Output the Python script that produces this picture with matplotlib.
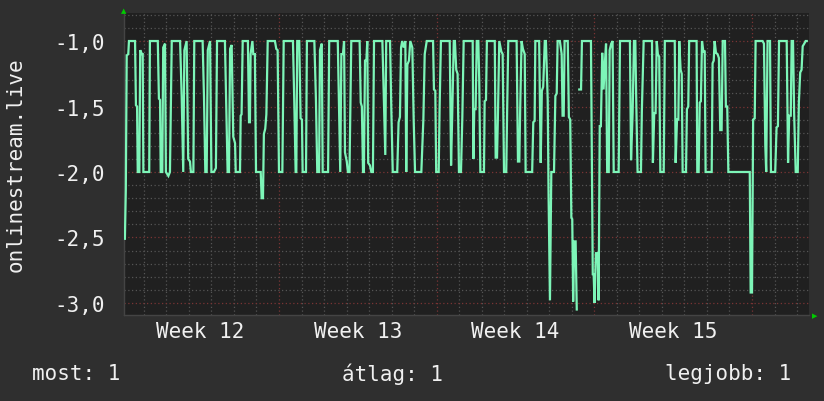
#!/usr/bin/env python
import numpy as np
import matplotlib
matplotlib.use('Agg')
import matplotlib.pyplot as plt

# time in days since Monday of week 12, value as plotted
t_days = [
  0.16, 0.20, 0.24, 0.31, 0.34, 0.61, 0.65, 0.70, 0.73, 0.80,
  0.84, 0.92, 0.95, 0.98, 1.24, 1.27, 1.62, 1.67, 1.72, 1.75,
  1.82, 1.86, 1.94, 1.98, 2.09, 2.16, 2.24, 2.61, 2.68, 2.75,
  2.80, 2.90, 2.97, 3.05, 3.09, 3.20, 3.24, 3.61, 3.67, 3.73,
  3.79, 3.84, 3.94, 4.00, 4.11, 4.20, 4.25, 4.60, 4.66, 4.72,
  4.78, 4.83, 4.90, 4.97, 5.05, 5.08, 5.27, 5.30, 5.34, 5.39,
  5.62, 5.67, 5.71, 5.74, 5.82, 5.86, 5.93, 5.98, 6.19, 6.23,
  6.29, 6.33, 6.39, 6.44, 6.50, 6.82, 6.88, 6.94, 7.00, 7.15,
  7.21, 7.62, 7.68, 7.74, 7.77, 7.81, 7.90, 7.96, 8.02, 8.05,
  8.20, 8.24, 8.57, 8.64, 8.70, 8.78, 8.82, 8.90, 8.94, 9.18,
  9.23, 9.61, 9.66, 9.72, 9.77, 9.84, 9.89, 9.93, 10.01, 10.06,
  10.13, 10.21, 10.58, 10.63, 10.68, 10.73, 10.77, 10.82, 10.88, 10.92,
  10.96, 11.04, 11.10, 11.17, 11.22, 11.59, 11.66, 11.72, 11.76, 11.93,
  11.99, 12.05, 12.25, 12.31, 12.37, 12.42, 12.47, 12.54, 12.61, 12.65,
  12.70, 12.77, 12.83, 12.92, 12.98, 13.04, 13.32, 13.41, 13.47, 13.56,
  13.84, 13.88, 13.94, 13.98, 14.09, 14.13, 14.19, 14.58, 14.64, 14.69,
  14.76, 14.81, 14.87, 14.93, 14.99, 15.08, 15.14, 15.20, 15.60, 15.63,
  15.67, 15.73, 15.78, 15.85, 15.89, 15.94, 16.10, 16.13, 16.19, 16.23,
  16.58, 16.62, 16.68, 16.72, 16.78, 16.87, 16.93, 16.99, 17.09, 17.13,
  17.18, 17.55, 17.61, 17.67, 17.71, 17.77, 17.83, 17.91, 17.95, 18.24,
  18.29, 18.35, 18.38, 18.55, 18.62, 18.67, 18.73, 18.80, 18.85, 18.93,
  18.97, 19.03, 19.09, 19.21, 19.27, 19.33, 19.37, 19.47, 19.55, 19.59,
  19.64, 19.68, 19.82, 19.87, 19.93, 19.98, 20.02, 20.06, 20.11, 20.17,
  20.22, 20.28, 20.33, 20.41, 20.45, 20.81, 20.85, 20.93, 20.97, 21.01,
  21.07, 21.15, 21.19, 21.24, 21.29, 21.35, 21.41, 21.47, 21.52, 21.57,
  21.64, 21.68, 21.75, 21.81, 21.86, 22.08, 22.14, 22.58, 22.63, 22.70,
  22.76, 22.82, 22.86, 22.92, 23.07, 23.11, 23.19, 23.56, 23.60, 23.66,
  23.72, 23.77, 23.82, 23.88, 23.93, 24.08, 24.13, 24.57, 24.61, 24.67,
  24.73, 24.77, 24.83, 24.88, 24.92, 25.07, 25.11, 25.17, 25.21, 25.54,
  25.57, 25.63, 25.68, 25.73, 25.78, 25.84, 25.90, 25.94, 26.21, 26.25,
  26.30, 26.34, 26.40, 26.47, 26.53, 26.59, 26.65, 26.70, 26.80, 26.84,
  26.90, 26.95, 27.90, 27.94, 28.00, 28.05, 28.12, 28.16, 28.47, 28.53,
  28.59, 28.63, 28.69, 28.80, 28.84, 29.03, 29.09, 29.15, 29.20, 29.54,
  29.60, 29.65, 29.72, 29.76, 29.82, 29.87, 29.94, 30.03, 30.08, 30.14,
  30.20, 30.25, 30.32, 30.38, 30.43,
]
nan = float('nan')
values = [
  -2.51, -2.14, -1.11, -1.10, -1.00, -1.00, -1.49, -1.50, -2.00, -2.00,
  -1.07, -1.10, -1.10, -2.00, -2.00, -1.00, -1.00, -1.44, -1.45, -2.00,
  -2.00, -1.05, -1.02, -2.00, -2.03, -2.00, -1.00, -1.00, -1.42, -2.00,
  -1.07, -1.00, -1.90, -1.92, -2.00, -2.00, -1.00, -1.00, -1.42, -2.00,
  -2.00, -1.07, -1.00, -2.00, -2.00, -1.97, -1.00, -1.00, -1.49, -2.00,
  -2.00, -1.06, -1.03, -1.73, -1.78, -2.00, -2.00, -1.57, -1.56, -1.00,
  -1.00, -1.62, -1.62, -1.10, -1.00, -1.10, -1.10, -2.00, -2.00, -2.20,
  -2.20, -1.71, -1.67, -1.56, -1.00, -1.00, -1.06, -1.07, -2.00, -2.00,
  -1.00, -1.00, -1.47, -2.00, -2.00, -1.00, -1.00, -1.59, -1.60, -2.00,
  -2.00, -1.00, -1.00, -1.44, -2.00, -2.00, -1.07, -1.02, -2.00, -2.00,
  -1.00, -1.00, -1.45, -2.00, -1.10, -1.10, -1.00, -1.85, -1.92, -2.00,
  -2.00, -1.00, -1.00, -1.47, -1.50, -2.00, -2.00, -1.15, -1.15, -1.00,
  -1.93, -1.95, -2.00, -2.00, -1.00, -1.00, -1.48, -1.87, -1.00, -1.00,
  -1.54, -2.00, -2.00, -1.62, -1.58, -1.05, -1.00, -1.05, -1.00, -2.00,
  -1.18, -1.15, -1.00, -1.05, -1.60, -2.00, -2.00, -1.60, -1.10, -1.00,
  -1.00, -1.37, -1.38, -2.00, -2.00, -1.52, -1.00, -1.00, -1.95, -1.57,
  -1.00, -1.00, -1.22, -1.25, -2.00, -2.00, -1.58, -1.00, -1.00, -1.90,
  -1.52, -1.52, -1.00, -1.00, -1.30, -2.00, -2.00, -1.46, -1.45, -1.00,
  -1.00, -1.89, -1.89, -1.57, -1.00, -1.08, -1.10, -2.00, -2.00, -1.52,
  -1.00, -1.00, -1.92, -1.92, -1.50, -1.00, -1.06, -1.10, -2.00, -2.00,
  -1.62, -1.61, -1.00, -1.00, -1.93, -1.38, -1.35, -1.00, -1.00, -1.45,
  -2.20, -2.98, -2.00, -2.00, -1.42, -1.40, -1.00, -1.00, -1.10, -1.57,
  -1.57, -1.00, -1.00, -1.58, -1.60, -2.35, -2.36, -2.99, -2.53, -2.53,
  -3.05, nan, -1.37, -1.37, -1.00, -1.00, -1.00, -2.78, -2.78, -3.00,
  -2.62, -2.62, -2.98, -1.65, -1.65, -1.09, -1.37, -1.16, -1.02, -2.00,
  -2.00, -1.07, -1.02, -1.00, -2.00, -2.00, -1.00, -1.00, -1.91, -1.55,
  -1.00, -1.00, -1.45, -2.00, -2.00, -1.53, -1.00, -1.00, -1.93, -1.55,
  -1.55, -1.00, -1.10, -1.12, -2.00, -2.00, -1.00, -1.00, -1.93, -1.60,
  -1.60, -1.00, -1.22, -1.25, -2.00, -2.00, -1.52, -1.50, -1.00, -1.00,
  -2.00, -2.00, -1.47, -1.46, -1.00, -1.08, -1.08, -2.00, -2.00, -1.17,
  -1.15, -1.00, -1.09, -1.10, -1.13, -1.68, -1.68, -1.00, -1.00, -1.50,
  -1.50, -2.00, -2.00, -2.92, -2.92, -1.60, -1.59, -1.00, -1.00, -1.02,
  -1.80, -2.00, -1.00, -1.00, -2.00, -2.00, -1.66, -1.65, -1.00, -1.00,
  -1.93, -1.57, -1.57, -1.00, -1.00, -1.55, -2.00, -2.00, -1.47, -1.24,
  -1.22, -1.04, -1.02, -1.00, -1.00,
]

week_pos = [3.5, 10.5, 17.5, 24.5]
week_labels = ['Week 12', 'Week 13', 'Week 14', 'Week 15']
y_ticks = [-1.0, -1.5, -2.0, -2.5, -3.0]
y_labels = ['-1,0', '-1,5', '-2,0', '-2,5', '-3,0']
legend_items = ['most: 1', 'átlag: 1', 'legjobb: 1']

BG = '#2f2f2f'
CANVAS = '#202020'
TXT = '#f0f0f0'
FONT = 'DejaVu Sans Mono'

fig = plt.figure(figsize=(8.24, 4.02), dpi=100, facecolor=BG)
ax = fig.add_axes([124/824, 86/402, 685/824, 302/402], facecolor=CANVAS)

x0, x1 = 0.12, 30.53
y0, y1 = -3.092, -0.786
ax.set_xlim(x0, x1)
ax.set_ylim(y0, y1)

# grid (rrdtool style: dotted gray minor, dotted red major)
for d in range(1, 31):
  if d % 7 == 0:
    ax.axvline(d, color='#7a3434', lw=0.9, ls=(0, (1, 2)), zorder=1)
  else:
    ax.axvline(d, color='#555555', lw=0.9, ls=(0, (1, 2)), zorder=1)
for v in np.arange(-3.0, -0.75, 0.1):
  v = round(v, 1)
  if abs(v * 2 - round(v * 2)) < 1e-6:
    ax.axhline(v, color='#7a3434', lw=0.9, ls=(0, (1, 2)), zorder=1)
  else:
    ax.axhline(v, color='#555555', lw=0.9, ls=(0, (1, 2)), zorder=1)

ax.plot(t_days, values, color='#7df5b8', lw=1.6, zorder=3,
        solid_joinstyle='miter')

ax.set_xticks(week_pos)
ax.set_xticklabels(week_labels, fontsize=15, family=FONT, color=TXT)
ax.set_yticks(y_ticks)
ax.set_yticklabels(y_labels, fontsize=15, family=FONT, color=TXT)
ax.tick_params(axis='both', length=0)
ax.tick_params(axis='x', pad=4)
ax.tick_params(axis='y', pad=14)

for side in ['top', 'right']:
  ax.spines[side].set_visible(False)
for side in ['left', 'bottom']:
  ax.spines[side].set_color('#444444')
  ax.spines[side].set_linewidth(1.0)

ax.set_ylabel('onlinestream.live', fontsize=15, family=FONT, color=TXT)
ax.yaxis.set_label_coords(-0.143, 0.5)

# little green arrows at axis ends
fig.text(124/824, 1 - 11/402, '▲', color='#00cc00', fontsize=5,
         ha='center', va='center')
fig.text(815/824, 86/402, '▶', color='#00cc00', fontsize=5,
         ha='center', va='center')

fig.text(32/824, 28/402, legend_items[0], fontsize=15, family=FONT,
         color=TXT, ha='left', va='center')
fig.text(392/824, 28/402, legend_items[1], fontsize=15, family=FONT,
         color=TXT, ha='center', va='center')
fig.text(791/824, 28/402, legend_items[2], fontsize=15, family=FONT,
         color=TXT, ha='right', va='center')

fig.savefig('out.png', dpi=100, facecolor=BG)
